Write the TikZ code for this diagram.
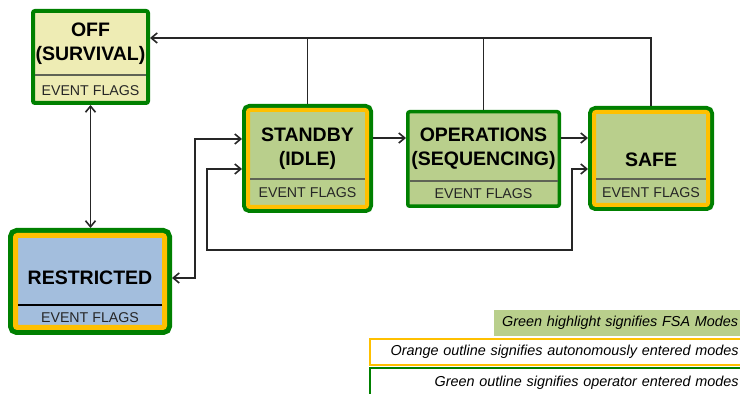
\documentclass[tikz,border=0pt]{standalone}
\usepackage{fontspec}
\setmainfont{Liberation Sans}
\usetikzlibrary{arrows.meta, calc}
\definecolor{modegreen}{RGB}{185,207,140}
\definecolor{offyellow}{RGB}{238,236,180}
\definecolor{restrblue}{RGB}{163,190,221}
\definecolor{operatorgreen}{RGB}{0,128,0}
\definecolor{autoorange}{RGB}{255,192,0}
\definecolor{splitgray}{RGB}{95,100,85}

\begin{document}
\begin{tikzpicture}[x=1pt, y=1pt,
  >={Straight Barb[length=6pt, width=10pt]},
  mode/.style={rectangle, rounded corners=2pt, inner sep=0pt, fill=modegreen},
  opmode/.style={mode, draw=operatorgreen, line width=#1},
  opmode/.default=4pt,
  automode/.style={mode, draw=autoorange, line width=#1, outer sep=1.5*#1,
    preaction={draw=operatorgreen, line width=3*#1}},
  automode/.default=4pt,
  title/.style={font=\fontsize{19.5}{24}\selectfont\bfseries, align=center},
  flags/.style={font=\fontsize{14.2}{16}\selectfont, text=black!85},
  flagsplit/.style={splitgray, line width=1.2pt},
  conn/.style={line width=1.6pt, black!85},
  keybox/.style={anchor=west, inner xsep=4pt, inner ysep=0pt, align=right,
    font=\fontsize{14.4}{16}\selectfont\itshape},
]
\useasboundingbox (0,0) rectangle (740,394);
\clip (0,0) rectangle (740,394);

% Modes
\node[opmode, fill=offyellow, minimum width=115, minimum height=92] (off) at (90.5,337) {};
\node[automode, minimum width=119, minimum height=97] (standby) at (307.5,235.5) {};
\node[opmode=3.5pt, minimum width=151.5, minimum height=94.5] (ops) at (483.5,235) {};
\node[automode, minimum width=114, minimum height=93] (safe) at (651,235.5) {};
\node[automode=5pt, fill=restrblue, minimum width=149, minimum height=92] (restr) at (90,112.5) {};

% Mode names
\node[title] (offname) at (90.5,350) {OFF\\(SURVIVAL)};
\node[title] (standbyname) at (307.5,245.5) {STANDBY\\(IDLE)};
\node[title] (opsname) at (483.5,245) {OPERATIONS\\(SEQUENCING)};
\node[title] (safename) at (651,234) {SAFE};
\node[title] (restrname) at (90,116) {RESTRICTED};

% Event flags
\draw[flagsplit] (35,319) -- (146,319);
\node[flags] (offflags) at (90.5,303) {EVENT FLAGS};
\draw[flagsplit] (250,215) -- (365,215);
\node[flags] (standbyflags) at (307.5,201) {EVENT FLAGS};
\draw[flagsplit] (409.5,213) -- (557.5,213);
\node[flags] (opsflags) at (483.5,200) {EVENT FLAGS};
\draw[flagsplit] (596,215) -- (706,215);
\node[flags] (safeflags) at (651,201) {EVENT FLAGS};
\draw[black, line width=1.2pt] (18,89) -- (162,89);
\node[flags] (restrflags) at (90,76) {EVENT FLAGS};

% Connectors
\coordinate (bus) at (0,356);
\coordinate (mid) at (0,256);
\coordinate (restrin) at (0,116);
\coordinate (upin) at (0,255);
\coordinate (loopin) at (0,225);
\draw[conn, ->] (safe.north) |- (off.east |- bus);
\draw[conn] (standby.north) -- (standby.north |- bus);
\draw[conn] (ops.north) -- (ops.north |- bus);
\draw[conn, <->] (off.south) -- (off.south |- restr.north);
\draw[conn, ->] (standby.east |- mid) -- (ops.west |- mid);
\draw[conn, ->] (ops.east |- mid) -- (safe.west |- mid);
\draw[conn, <->] (restr.east |- restrin) -- ++(23,0) |- (standby.west |- upin);
\draw[conn, <->] (standby.west |- loopin) -| (207,144) -| (572,225) -- (safe.west |- loopin);

% Legend
\node[keybox, fill=modegreen, minimum height=26, text width=240pt] (keyfill) at (494,71) {Green highlight signifies FSA Modes};
\node[keybox, draw=autoorange, line width=1.5pt, minimum height=26, text width=365pt] (keyauto) at (369,42) {Orange outline signifies autonomously entered modes};
\node[keybox, draw=operatorgreen, line width=1.5pt, minimum height=30, text width=365pt] (keyoper) at (369,11) {Green outline signifies operator entered modes};
\end{tikzpicture}
\end{document}
